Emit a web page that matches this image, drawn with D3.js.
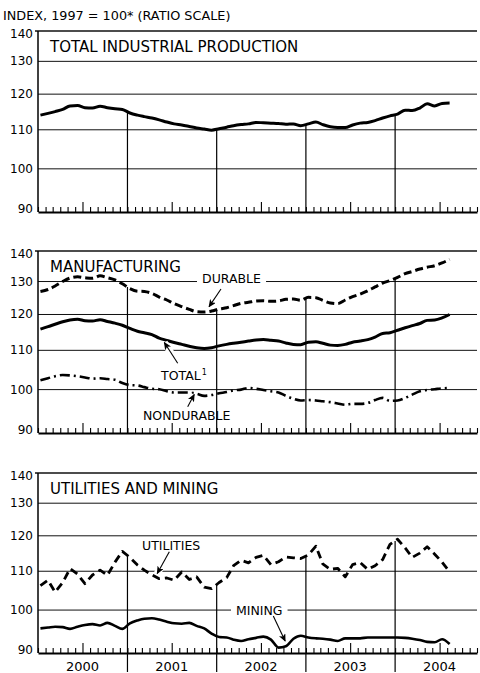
<!DOCTYPE html>
<html>
<head>
<meta charset="utf-8">
<script src="https://cdn.jsdelivr.net/npm/d3@7"></script>
<style>
  body { margin: 0; background: #fff; }
  svg { display: block; font-family: "DejaVu Sans", sans-serif; }
</style>
</head>
<body>
<svg id="chart" width="480" height="673"></svg>
<script>
//Monthly index values, Jan 2000 - Aug 2004 (1997 = 100)
let industrialTotal = [
    114.0, 114.5, 115.0, 115.6, 116.6, 116.7, 116.1, 116.0, 116.5, 116.1, 115.8, 115.6,
    114.6, 114.0, 113.6, 113.2, 112.7, 112.1, 111.6, 111.3, 110.9, 110.5, 110.2, 109.9,
    110.3, 110.7, 111.1, 111.4, 111.6, 112.0, 111.9, 111.8, 111.7, 111.5, 111.6, 111.1,
    111.6, 112.1, 111.4, 110.8, 110.6, 110.6, 111.3, 111.8, 112.0, 112.5, 113.2, 113.8,
    114.3, 115.4, 115.3, 116.0, 117.2, 116.6, 117.3, 117.4
];
let mfgDurable = [
    126.9, 127.5, 128.6, 130.0, 131.1, 131.5, 131.2, 131.0, 131.8, 131.2, 130.5, 129.3,
    127.8, 127.0, 126.9, 126.3, 125.2, 124.3, 123.2, 122.3, 121.5, 120.8, 120.7, 121.0,
    121.6, 122.0, 122.6, 123.3, 123.6, 124.0, 124.1, 123.9, 124.0, 124.5, 124.6, 124.2,
    125.1, 125.0, 124.2, 123.4, 123.2, 124.3, 125.3, 126.1, 127.1, 128.3, 129.5, 130.3,
    131.3, 132.5, 133.2, 134.0, 134.6, 135.1, 136.0, 137.2
];
let mfgTotal = [
    115.8, 116.5, 117.2, 117.9, 118.4, 118.6, 118.2, 118.1, 118.5, 118.0, 117.5, 116.9,
    116.0, 115.2, 114.8, 114.3, 113.3, 112.7, 112.1, 111.6, 111.1, 110.7, 110.5, 110.7,
    111.2, 111.6, 111.9, 112.2, 112.5, 112.8, 112.9, 112.7, 112.5, 112.0, 111.6, 111.5,
    112.2, 112.3, 111.9, 111.4, 111.3, 111.6, 112.2, 112.5, 112.9, 113.6, 114.6, 114.8,
    115.5, 116.2, 116.8, 117.4, 118.3, 118.4, 119.0, 120.0
];
let mfgNondurable = [
    102.3, 102.8, 103.3, 103.6, 103.5, 103.3, 103.0, 102.7, 102.8, 102.6, 102.4, 101.6,
    101.1, 101.0, 100.6, 100.2, 100.1, 99.6, 99.3, 99.3, 99.3, 99.0, 98.5, 98.7,
    99.1, 99.4, 99.8, 100.0, 100.4, 100.2, 99.9, 99.6, 99.3, 98.5, 97.8, 97.4,
    97.5, 97.4, 97.2, 97.0, 96.7, 96.4, 96.6, 96.6, 96.8, 97.5, 98.0, 97.3,
    97.4, 98.0, 98.8, 99.6, 99.9, 100.1, 100.3, 100.4
];
let utilities = [
    106.2, 107.6, 104.5, 107.0, 110.7, 109.2, 106.7, 109.0, 110.3, 108.9, 112.5, 115.5,
    113.8, 111.7, 110.3, 109.0, 108.0, 108.2, 107.6, 109.8, 107.8, 108.5, 105.8, 105.4,
    107.0, 108.3, 111.5, 113.0, 112.3, 113.8, 114.4, 111.8, 112.6, 113.9, 113.7, 113.5,
    114.5, 117.0, 112.0, 110.5, 110.8, 108.5, 111.8, 112.4, 110.5, 111.5, 113.2, 117.5,
    119.0, 116.5, 113.8, 115.0, 116.8, 114.7, 112.5, 109.8
];
let mining = [
    95.6, 95.8, 96.0, 95.9, 95.5, 96.0, 96.4, 96.6, 96.3, 96.9, 96.2, 95.5,
    96.8, 97.5, 97.9, 98.0, 97.7, 97.2, 96.8, 96.7, 96.9, 96.2, 95.6, 94.4,
    93.6, 93.5, 93.0, 92.7, 93.1, 93.4, 93.7, 93.0, 91.2, 91.5, 93.2, 93.9,
    93.5, 93.3, 93.2, 93.0, 92.7, 93.3, 93.3, 93.3, 93.5, 93.5, 93.5, 93.5,
    93.5, 93.4, 93.2, 92.9, 92.5, 92.4, 93.1, 92.0
];
let yTicks = [90, 100, 110, 120, 130, 140];
let years = [2000, 2001, 2002, 2003, 2004];

let months = industrialTotal.map((v, i) => new Date(2000, i, 11));
let svg = d3.select("#chart");
let x = d3.scaleTime()
    .domain([new Date(2000, 0, 1), new Date(2004, 11, 1)])
    .range([38, 477]);

let panels = [
    {top: 31, bottom: 212, title: "TOTAL INDUSTRIAL PRODUCTION", yearLineEnd: 0,
        series: [{values: industrialTotal}]},
    {top: 251, bottom: 433, title: "MANUFACTURING", yearLineEnd: 0,
        series: [{values: mfgDurable, dash: "8,4"}, {values: mfgTotal}, {values: mfgNondurable, dash: "10,4,2,4", width: 2.6}]},
    {top: 473, bottom: 653, title: "UTILITIES AND MINING", yearLineEnd: 672,
        series: [{values: utilities, dash: "8,5", jagged: true, width: 2.8}, {values: mining, width: 2.6}]}
];

//Header
svg.append("text")
    .attr("x", 3).attr("y", 20)
    .attr("font-size", 12.8)
    .text("INDEX, 1997 = 100* (RATIO SCALE)");

//Arrow head
svg.append("defs").append("marker")
    .attr("id", "head")
    .attr("markerUnits", "userSpaceOnUse")
    .attr("markerWidth", 8).attr("markerHeight", 7)
    .attr("refX", 7).attr("refY", 3.5)
    .attr("orient", "auto")
    .append("path")
    .attr("d", "M0,0 L8,3.5 L0,7 L2,3.5 Z")
    .attr("fill", "#000");

panels.forEach(p => {
    let y = d3.scaleLog().domain([90, 140]).range([p.bottom, p.top]);
    p.y = y;
    let g = svg.append("g");

    //Gridlines (140 is the frame top)
    g.selectAll("line.grid")
        .data(yTicks.slice(1))
        .enter().append("line")
        .attr("class", "grid")
        .attr("x1", d => d === 140 ? 35 : 38).attr("x2", 477)
        .attr("y1", d => y(d)).attr("y2", d => y(d))
        .attr("stroke", "#111")
        .attr("stroke-width", d => d === 140 ? 1.3 : 1);

    //Left frame
    g.append("line")
        .attr("x1", 38).attr("x2", 38)
        .attr("y1", y(140)).attr("y2", y(90))
        .attr("stroke", "#000").attr("stroke-width", 1.5);

    //Y labels
    g.selectAll("text.ylab")
        .data(yTicks)
        .enter().append("text")
        .attr("class", "ylab")
        .attr("x", 33)
        .attr("y", d => y(d) + 4 + (d === 90 ? -3 : 0) + (d === 140 ? 3 : 0))
        .attr("text-anchor", "end")
        .attr("font-size", 12)
        .text(d => d);

    //Panel title
    g.append("text")
        .attr("x", 50).attr("y", p.top + 21)
        .attr("font-size", 15)
        .text(p.title);

    p.layer = g;
});

//Labels with white gap behind them, drawn before the series
let notes = [
    {panel: 1, text: "DURABLE", lx: 202, ly: 283, from: [221, 289], tip: [new Date(2001, 11, 1), 122.3]},
    {panel: 1, text: "TOTAL", sup: "1", lx: 161, ly: 380, from: [177.7, 363.3], tip: [new Date(2001, 5, 1), 112.1]},
    {panel: 1, text: "NONDURABLE", lx: 143, ly: 420, from: [187.7, 406.7], tip: [new Date(2001, 9, 1), 98.8]},
    {panel: 2, text: "UTILITIES", lx: 142, ly: 550, from: [169.3, 551.7], tip: [new Date(2001, 4, 3), 109.4]},
    {panel: 2, text: "MINING", lx: 236, ly: 615, from: [273.3, 616], tip: [new Date(2002, 9, 8), 92.7]}
];

let noteLayer = svg.append("g");
let bgLayer = noteLayer.append("g");
notes.forEach(n => {
    let t = noteLayer.append("text")
        .attr("x", n.lx).attr("y", n.ly)
        .attr("font-size", 12.5)
        .text(n.text);
    if (n.sup) {
        t.append("tspan").attr("font-size", 8).attr("dy", -5).attr("dx", 1).text(n.sup);
    }
    let b = t.node().getBBox();
    bgLayer.append("rect")
        .attr("x", b.x - 5).attr("y", b.y - 1)
        .attr("width", b.width + 10).attr("height", b.height + 2)
        .attr("fill", "#fff");
    n.node = t;
});

//Series
panels.forEach(p => {
    let y = p.y;
    p.series.forEach(s => {
        let line = d3.line()
            .x((d, i) => x(months[i]))
            .y(d => y(d))
            .curve(s.jagged ? d3.curveLinear : d3.curveMonotoneX);
        svg.append("path")
            .datum(s.values)
            .attr("d", line)
            .attr("fill", "none")
            .attr("stroke", "#000")
            .attr("stroke-width", s.width || 3)
            .attr("stroke-linejoin", "round")
            .attr("stroke-dasharray", s.dash || null);
    });

    //Year separators from the top series down to the axis
    let top = p.series[0].values;
    let yAt = date => {
        let i = d3.bisector(d => d).right(months, date) - 1;
        let t = (date - months[i]) / (months[i + 1] - months[i]);
        return y(top[i]) + t * (y(top[i + 1]) - y(top[i]));
    };
    svg.append("g")
        .selectAll("line")
        .data(years.slice(1))
        .enter().append("line")
        .attr("x1", d => x(new Date(d, 0, 1))).attr("x2", d => x(new Date(d, 0, 1)))
        .attr("y1", d => yAt(new Date(d, 0, 1)))
        .attr("y2", p.yearLineEnd || p.bottom)
        .attr("stroke", "#000")
        .attr("stroke-width", 1.2);

    //Month ticks, taller at mid-year
    let axis = d3.axisBottom(x)
        .ticks(d3.timeMonth.every(1))
        .tickSize(-5)
        .tickSizeOuter(0)
        .tickFormat("");
    let ax = svg.append("g")
        .attr("transform", "translate(0," + p.bottom + ")")
        .call(axis);
    ax.select(".domain").attr("stroke", "#000").attr("stroke-width", 2);
    ax.selectAll(".tick line")
        .attr("y2", d => d.getMonth() === 6 ? -10 : -5)
        .attr("stroke", "#000")
        .attr("stroke-width", 1.1);
});

//Year labels
svg.append("g")
    .selectAll("text")
    .data(years)
    .enter().append("text")
    .attr("x", d => x(new Date(d, 6, 1)))
    .attr("y", 671)
    .attr("text-anchor", "middle")
    .attr("font-size", 13)
    .text(d => d);

//Arrows with a white halo, then labels on top
notes.forEach(n => {
    let y = panels[n.panel].y;
    let tx = x(n.tip[0]), ty = y(n.tip[1]);
    svg.append("line")
        .attr("x1", n.from[0]).attr("y1", n.from[1])
        .attr("x2", tx).attr("y2", ty)
        .attr("stroke", "#fff").attr("stroke-width", 7);
    svg.append("line")
        .attr("x1", n.from[0]).attr("y1", n.from[1])
        .attr("x2", tx).attr("y2", ty)
        .attr("stroke", "#000").attr("stroke-width", 1.1)
        .attr("marker-end", "url(#head)");
    svg.node().appendChild(n.node.node());
});
</script>
</body>
</html>
